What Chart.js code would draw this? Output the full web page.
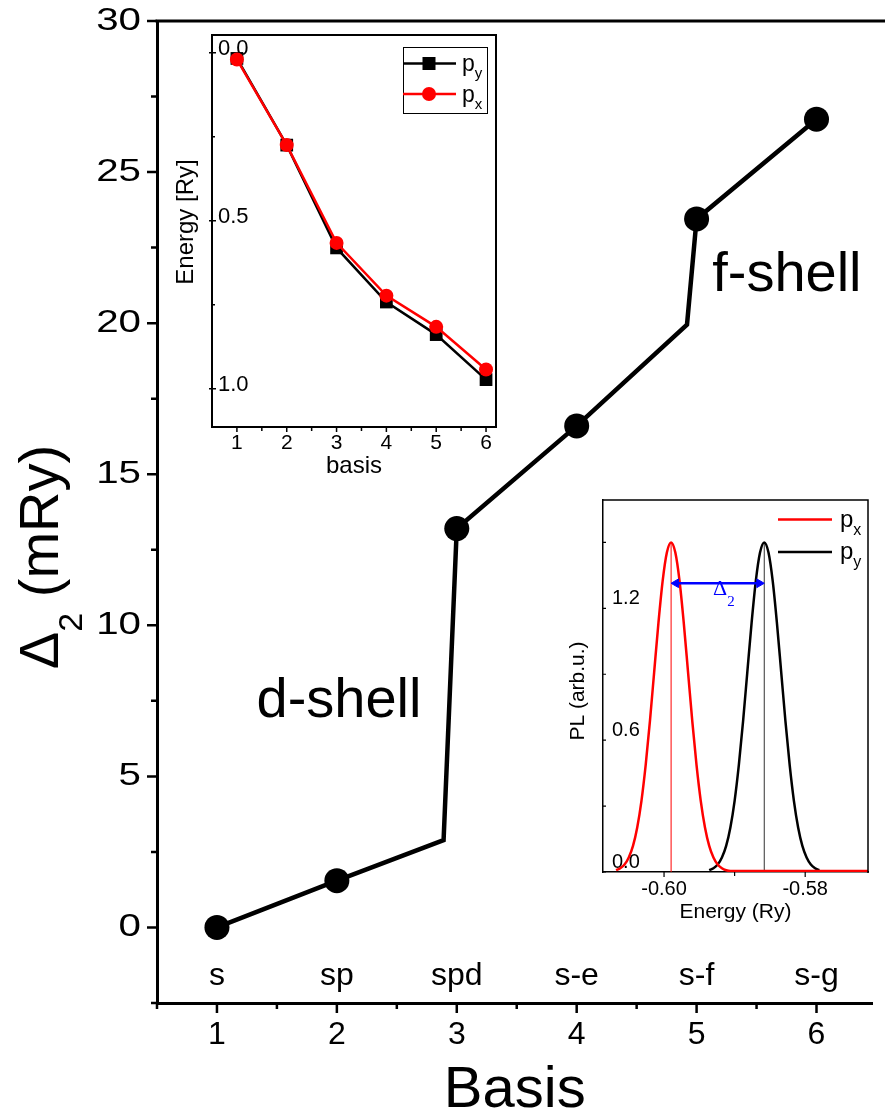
<!DOCTYPE html>
<html><head><meta charset="utf-8">
<script src="https://cdn.jsdelivr.net/npm/chart.js@4.4.1/dist/chart.umd.min.js"></script>
<style>
html,body{margin:0;padding:0;background:#fff;overflow:hidden;}
#wrap{position:relative;width:885px;height:1117px;}
canvas{position:absolute;}
#main{left:0;top:0;}
#ins1{left:170px;top:25px;}
#ins2{left:560px;top:490px;}
</style></head><body>
<div id="wrap">
<canvas id="main" width="885" height="1117"></canvas>
<canvas id="ins1" width="335" height="455"></canvas>
<canvas id="ins2" width="325" height="435"></canvas>
</div>
<script>
// ---------------- data ----------------
const basisIndex = [1, 2, 3, 4, 5, 6];
const basisNames = ['s', 'sp', 'spd', 's-e', 's-f', 's-g'];
const delta2 = [0, 1.55, 13.2, 16.6, 23.45, 26.75];
const pathBasis = [1, 2, 2.89, 3, 4, 4.92, 5, 6];
const pathDelta2 = [0, 1.55, 2.89, 13.2, 16.6, 19.95, 23.45, 26.75];
const mainXTicks = [1, 2, 3, 4, 5, 6];
const mainXMinor = [0.5, 1.5, 2.5, 3.5, 4.5, 5.5];
const mainYTicks = [0, 5, 10, 15, 20, 25, 30];
const mainYMinor = [-2.5, 2.5, 7.5, 12.5, 17.5, 22.5, 27.5];

const insetBasis = [1, 2, 3, 4, 5, 6];
const energyPy = [0.017, 0.275, 0.581, 0.742, 0.839, 0.973];
const energyPx = [0.02, 0.275, 0.566, 0.723, 0.816, 0.943];
const ins1XTicks = [1, 2, 3, 4, 5, 6];
const ins1XMinor = [1.5, 2.5, 3.5, 4.5, 5.5];
const ins1YTicks = [0, 0.5, 1.0];
const ins1YMinor = [0.25, 0.75];

const plRedE = [-0.6068, -0.6062, -0.6056, -0.6050, -0.6044, -0.6038, -0.6032, -0.6026, -0.6020, -0.6014,
  -0.6008, -0.6002, -0.5996, -0.5990, -0.5984, -0.5978, -0.5972, -0.5966, -0.5960, -0.5954,
  -0.5948, -0.5942, -0.5936, -0.5930, -0.5924, -0.5918, -0.5912, -0.5906, -0.5711];
const plRed = [0.008, 0.017, 0.034, 0.066, 0.119, 0.203, 0.324, 0.487, 0.687, 0.910,
  1.132, 1.324, 1.454, 1.5, 1.454, 1.324, 1.132, 0.910, 0.687, 0.487,
  0.324, 0.203, 0.119, 0.066, 0.034, 0.017, 0.008, 0.004, 0.004];
const plBlackE = [-0.5936, -0.5930, -0.5924, -0.5918, -0.5912, -0.5906, -0.5900, -0.5894, -0.5888, -0.5882,
  -0.5876, -0.5870, -0.5864, -0.5858, -0.5852, -0.5846, -0.5840, -0.5834, -0.5828, -0.5822,
  -0.5816, -0.5810, -0.5804, -0.5798, -0.5792, -0.5786, -0.5780];
const plBlack = [0.008, 0.017, 0.034, 0.066, 0.119, 0.203, 0.324, 0.487, 0.687, 0.910,
  1.132, 1.324, 1.454, 1.5, 1.454, 1.324, 1.132, 0.910, 0.687, 0.487,
  0.324, 0.203, 0.119, 0.066, 0.034, 0.017, 0.008];
const peakRedE = -0.5990, peakBlackE = -0.5858, peakPL = 1.5;
const arrowE = [-0.5983, -0.5865];
const arrowPL = [1.314, 1.314];
const ins2XTicks = [-0.60, -0.58];
const ins2XMinor = [-0.59];
const ins2YTicks = [0, 0.6, 1.2];
const ins2YMinor = [0.3, 0.9, 1.5];

// ---------------- helpers ----------------
const FF = '"Liberation Sans", Arial, Helvetica, sans-serif';
Chart.defaults.font.family = FF;
Chart.defaults.color = '#000';

class WideLinear extends Chart.LinearScale {
  drawLabels(area) {
    const ctx = this.ctx;
    const x0 = this.right - this.options.ticks.padding;
    ctx.save();
    ctx.translate(x0, 0); ctx.scale(1.3, 1); ctx.translate(-x0, 0);
    super.drawLabels(area);
    ctx.restore();
  }
}
WideLinear.id = 'widelinear';
Chart.register(WideLinear);

function noPad(s) { s.paddingTop = 0; s.paddingBottom = 0; s.paddingLeft = 0; s.paddingRight = 0; }
function segs(ctx, list) {
  ctx.beginPath();
  list.forEach(([a, b, c, d]) => { ctx.moveTo(a, b); ctx.lineTo(c, d); });
  ctx.stroke();
}
function subText(ctx, base, sub, x, y, f1, f2, dy) {
  ctx.font = f1; ctx.fillText(base, x, y);
  const w = ctx.measureText(base).width;
  ctx.font = f2; ctx.fillText(sub, x + w, y + dy);
}
const xy = (xs, ys) => xs.map((v, i) => ({x: v, y: ys[i]}));

// ---------------- main chart ----------------
const mainDeco = {
  id: 'mainDeco',
  afterDraw(chart) {
    const {ctx, chartArea: a} = chart;
    const sx = chart.scales.x, sy = chart.scales.y;
    ctx.save();
    ctx.strokeStyle = '#000'; ctx.fillStyle = '#000';
    ctx.lineWidth = 3;
    ctx.beginPath(); ctx.moveTo(a.left - 1.5, a.top); ctx.lineTo(chart.width, a.top); ctx.stroke();
    ctx.lineWidth = 2.5;
    const s = [];
    mainXTicks.forEach(v => { const p = sx.getPixelForValue(v); s.push([p, a.bottom, p, a.bottom + 10]); });
    mainXMinor.forEach(v => { const p = sx.getPixelForValue(v); s.push([p, a.bottom, p, a.bottom + 6]); });
    mainYTicks.forEach(v => { const p = sy.getPixelForValue(v); s.push([a.left, p, a.left - 10, p]); });
    mainYMinor.forEach(v => { const p = sy.getPixelForValue(v); s.push([a.left, p, a.left - 6, p]); });
    segs(ctx, s);
    ctx.textBaseline = 'alphabetic';
    ctx.textAlign = 'center';
    ctx.font = '32px ' + FF;
    basisNames.forEach((t, i) => ctx.fillText(t, sx.getPixelForValue(basisIndex[i]), sy.getPixelForValue(-1.92)));
    ctx.textAlign = 'left';
    ctx.font = '56px ' + FF;
    ctx.fillText('d-shell', sx.getPixelForValue(1.33), sy.getPixelForValue(6.98));
    ctx.fillText('f-shell', sx.getPixelForValue(5.13), sy.getPixelForValue(21.05));
    ctx.textAlign = 'center';
    ctx.font = '58px ' + FF;
    ctx.fillText('Basis', (a.left + a.right) / 2, 1107);
    // y title
    ctx.save();
    ctx.translate(58, 557); ctx.rotate(-Math.PI / 2);
    ctx.textAlign = 'left';
    const F1 = '56px ' + FF, F2 = '34px ' + FF;
    ctx.font = F1; const wD = ctx.measureText('\u0394').width, wR = ctx.measureText(' (mRy)').width;
    ctx.font = F2; const w2 = ctx.measureText('2').width;
    let x0 = -(wD + w2 + wR) / 2;
    ctx.font = F1; ctx.fillText('\u0394', x0, 0); x0 += wD;
    ctx.font = F2; ctx.fillText('2', x0, 24); x0 += w2;
    ctx.font = F1; ctx.fillText(' (mRy)', x0, 0);
    ctx.restore();
    ctx.restore();
  }
};

new Chart(document.getElementById('main'), {
  type: 'scatter',
  data: {
    datasets: [
      {data: xy(pathBasis, pathDelta2), showLine: true, borderColor: '#000', borderWidth: 4.5,
       pointRadius: 0, fill: false, order: 2},
      {data: xy(basisIndex, delta2), showLine: false, pointRadius: 12.5, pointBackgroundColor: '#000',
       pointBorderWidth: 0, order: 1}
    ]
  },
  options: {
    responsive: false, animation: false,
    layout: {padding: {top: 21, right: 0, left: 0, bottom: 0}},
    plugins: {legend: {display: false}, tooltip: {enabled: false}},
    scales: {
      x: {
        type: 'linear', min: 0.5, max: 6.467,
        afterBuildTicks: s => { s.ticks = mainXTicks.map(v => ({value: v})); },
        afterFit: s => { s.height = 114; noPad(s); },
        grid: {display: false, drawTicks: false},
        border: {display: true, width: 3, color: '#000'},
        ticks: {font: {size: 32}, color: '#000', padding: 13, maxRotation: 0, callback: v => String(v)}
      },
      y: {
        type: 'widelinear', min: -2.5, max: 30,
        afterBuildTicks: s => { s.ticks = mainYTicks.map(v => ({value: v})); },
        afterFit: s => { s.width = 157; noPad(s); },
        grid: {display: false, drawTicks: false},
        border: {display: true, width: 3, color: '#000'},
        ticks: {font: {size: 31}, color: '#000', padding: 16, callback: v => String(v)}
      }
    }
  },
  plugins: [mainDeco]
});

// ---------------- inset 1 ----------------
const ins1Deco = {
  id: 'ins1Deco',
  afterDraw(chart) {
    const {ctx, chartArea: a} = chart;
    const sx = chart.scales.x, sy = chart.scales.y;
    ctx.save();
    ctx.strokeStyle = '#000'; ctx.fillStyle = '#000';
    ctx.lineWidth = 2;
    ctx.beginPath(); ctx.moveTo(a.left - 1, a.top); ctx.lineTo(a.right, a.top); ctx.lineTo(a.right, a.bottom + 1); ctx.stroke();
    ctx.lineWidth = 1.5;
    const s = [];
    ins1XTicks.forEach(v => { const p = sx.getPixelForValue(v); s.push([p, a.bottom, p, a.bottom + 5]); });
    ins1XMinor.forEach(v => { const p = sx.getPixelForValue(v); s.push([p, a.bottom, p, a.bottom + 4]); });
    ins1YTicks.forEach(v => { const p = sy.getPixelForValue(v); s.push([a.left - 3, p, a.left + 4, p]); });
    ins1YMinor.forEach(v => { const p = sy.getPixelForValue(v); s.push([a.left, p, a.left + 3, p]); });
    segs(ctx, s);
    // axis titles
    ctx.textAlign = 'center'; ctx.textBaseline = 'alphabetic';
    ctx.font = '24px ' + FF;
    ctx.fillText('basis', (a.left + a.right) / 2, 448);
    ctx.save(); ctx.translate(23, 197); ctx.rotate(-Math.PI / 2);
    ctx.fillText('Energy [Ry]', 0, 0); ctx.restore();
    // legend
    ctx.lineWidth = 1; ctx.strokeStyle = '#000';
    ctx.strokeRect(233.5, 22.5, 84, 66);
    ctx.lineWidth = 2.5;
    ctx.strokeStyle = '#000'; segs(ctx, [[233, 38.5, 286, 38.5]]);
    ctx.fillStyle = '#000'; ctx.fillRect(259 - 6.5, 38.5 - 6.5, 13, 13);
    ctx.strokeStyle = '#ff0000'; segs(ctx, [[233, 69, 286, 69]]);
    ctx.fillStyle = '#ff0000'; ctx.beginPath(); ctx.arc(259, 69, 7, 0, Math.PI * 2); ctx.fill();
    ctx.fillStyle = '#000'; ctx.textAlign = 'left';
    subText(ctx, 'p', 'y', 292, 45.5, '23px ' + FF, '15px ' + FF, 7);
    subText(ctx, 'p', 'x', 292, 76.5, '23px ' + FF, '15px ' + FF, 7);
    ctx.restore();
  }
};

new Chart(document.getElementById('ins1'), {
  type: 'scatter',
  data: {
    datasets: [
      {data: xy(insetBasis, energyPy), showLine: true, borderColor: '#000', borderWidth: 2.5,
       pointStyle: 'rect', pointRadius: 9, pointBackgroundColor: '#000', pointBorderWidth: 0, order: 2},
      {data: xy(insetBasis, energyPx), showLine: true, borderColor: '#ff0000', borderWidth: 2.5,
       pointStyle: 'circle', pointRadius: 7, pointBackgroundColor: '#ff0000', pointBorderWidth: 0, order: 1}
    ]
  },
  options: {
    responsive: false, animation: false,
    layout: {padding: {top: 10, right: 8, left: 0, bottom: 0}},
    plugins: {legend: {display: false}, tooltip: {enabled: false}},
    scales: {
      x: {
        type: 'linear', min: 0.5, max: 6.2,
        afterBuildTicks: s => { s.ticks = ins1XTicks.map(v => ({value: v})); },
        afterFit: s => { s.height = 53; noPad(s); },
        grid: {display: false, drawTicks: false},
        border: {display: true, width: 2, color: '#000'},
        ticks: {font: {size: 21}, color: '#000', padding: 4, maxRotation: 0, callback: v => String(v)}
      },
      y: {
        type: 'linear', reverse: true, min: -0.0527, max: 1.114,
        afterBuildTicks: s => { s.ticks = ins1YTicks.map(v => ({value: v})); },
        afterFit: s => { s.width = 42; noPad(s); },
        grid: {display: false, drawTicks: false},
        border: {display: true, width: 2, color: '#000'},
        ticks: {font: {size: 22}, color: '#000', padding: 6, mirror: true, labelOffset: -4,
                callback: v => v.toFixed(1)}
      }
    }
  },
  plugins: [ins1Deco]
});

// ---------------- inset 2 ----------------
const ins2Deco = {
  id: 'ins2Deco',
  afterDraw(chart) {
    const {ctx, chartArea: a} = chart;
    const sx = chart.scales.x, sy = chart.scales.y;
    ctx.save();
    ctx.strokeStyle = '#000'; ctx.fillStyle = '#000';
    ctx.lineWidth = 1.5;
    ctx.beginPath(); ctx.moveTo(a.left - 1, a.top); ctx.lineTo(a.right, a.top); ctx.lineTo(a.right, a.bottom + 1); ctx.stroke();
    ctx.lineWidth = 1.2;
    const s = [];
    ins2XTicks.forEach(v => { const p = sx.getPixelForValue(v); s.push([p, a.bottom, p, a.bottom + 5]); });
    ins2XMinor.forEach(v => { const p = sx.getPixelForValue(v); s.push([p, a.bottom, p, a.bottom + 4]); });
    ins2YMinor.concat(ins2YTicks).forEach(v => { const p = sy.getPixelForValue(v); s.push([a.left, p, a.left + 3, p]); });
    segs(ctx, s);
    ctx.textAlign = 'center'; ctx.textBaseline = 'alphabetic';
    ctx.font = '21px ' + FF;
    ctx.fillText('Energy (Ry)', (a.left + a.right) / 2, 428);
    ctx.save(); ctx.translate(24, 201); ctx.rotate(-Math.PI / 2);
    ctx.fillText('PL (arb.u.)', 0, 0); ctx.restore();
    // Delta_2 label
    ctx.fillStyle = '#0000ff'; ctx.textAlign = 'left';
    subText(ctx, '\u0394', '2', 153, 105, '22px "Liberation Serif", "DejaVu Serif", serif', '15px "Liberation Serif", "DejaVu Serif", serif', 11);
    // legend
    ctx.lineWidth = 2.5;
    ctx.strokeStyle = '#ff0000'; segs(ctx, [[218, 29.5, 272, 29.5]]);
    ctx.strokeStyle = '#000'; segs(ctx, [[218, 62, 272, 62]]);
    ctx.fillStyle = '#000';
    subText(ctx, 'p', 'x', 280, 37, '24px ' + FF, '16px ' + FF, 8);
    subText(ctx, 'p', 'y', 280, 69, '24px ' + FF, '16px ' + FF, 8);
    ctx.restore();
  }
};

new Chart(document.getElementById('ins2'), {
  type: 'scatter',
  data: {
    datasets: [
      {data: xy(plRedE, plRed), showLine: true, borderColor: '#ff0000', borderWidth: 2.5,
       pointRadius: 0, cubicInterpolationMode: 'monotone', order: 1},
      {data: xy(plBlackE, plBlack), showLine: true, borderColor: '#000', borderWidth: 2.5,
       pointRadius: 0, cubicInterpolationMode: 'monotone', order: 3},
      {data: [{x: peakRedE, y: 0}, {x: peakRedE, y: peakPL}], showLine: true, borderColor: '#ff0000',
       borderWidth: 1, pointRadius: 0, order: 2},
      {data: [{x: peakBlackE, y: 0}, {x: peakBlackE, y: peakPL}], showLine: true, borderColor: '#333',
       borderWidth: 1, pointRadius: 0, order: 4},
      {data: xy(arrowE, arrowPL), showLine: true, borderColor: '#0000ff', borderWidth: 2.5,
       pointStyle: 'triangle', pointRadius: 5, pointRotation: [-90, 90],
       pointBackgroundColor: '#0000ff', pointBorderColor: '#0000ff', pointBorderWidth: 1, order: 0}
    ]
  },
  options: {
    responsive: false, animation: false,
    layout: {padding: {top: 10, right: 17, left: 0, bottom: 0}},
    plugins: {legend: {display: false}, tooltip: {enabled: false}},
    scales: {
      x: {
        type: 'linear', min: -0.60865, max: -0.5711,
        afterBuildTicks: s => { s.ticks = ins2XTicks.map(v => ({value: v})); },
        afterFit: s => { s.height = 53; noPad(s); },
        grid: {display: false, drawTicks: false},
        border: {display: true, width: 1.5, color: '#000'},
        ticks: {font: {size: 20}, color: '#000', padding: 5, maxRotation: 0, callback: v => v.toFixed(2)}
      },
      y: {
        type: 'linear', min: 0, max: 1.693,
        afterBuildTicks: s => { s.ticks = ins2YTicks.map(v => ({value: v})); },
        afterFit: s => { s.width = 43; noPad(s); },
        grid: {display: false, drawTicks: false},
        border: {display: true, width: 1.5, color: '#000'},
        ticks: {font: {size: 20}, color: '#000', padding: 9, mirror: true, labelOffset: -10,
                callback: v => v.toFixed(1)}
      }
    }
  },
  plugins: [ins2Deco]
});
</script>
</body></html>
